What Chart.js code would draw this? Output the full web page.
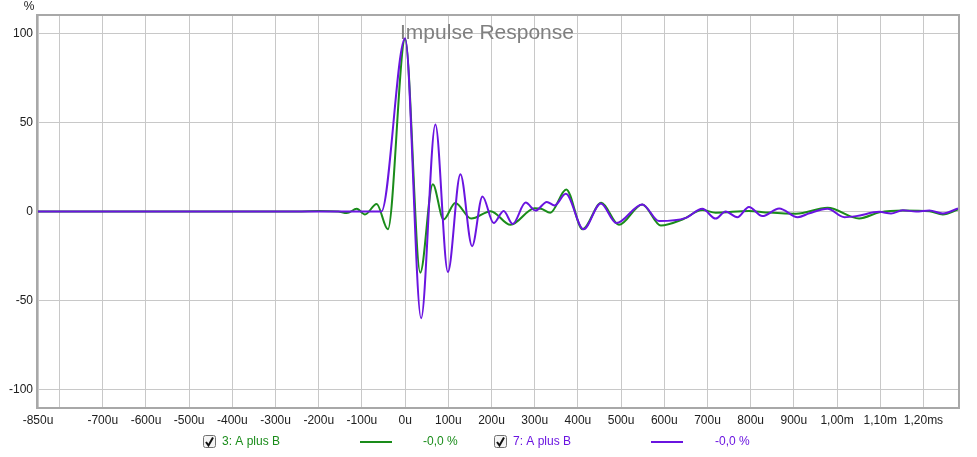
<!DOCTYPE html>
<html lang="en">
<head>
    <meta charset="UTF-8">
    <title>Impulse Response</title>
    <script src="https://cdn.jsdelivr.net/npm/chart.js"></script>
    <style>
        html, body { margin: 0; padding: 0; background: #fff; }
        #wrap { width: 977px; height: 457px; position: relative; }
    </style>
</head>
<body>
    <div id="wrap"><canvas id="irChart"></canvas></div>

    <script>
        // time in microseconds, amplitude in %
        const greenTime = [-850, -400, -250, -200, -155, -135, -112, -93, -66, -40, 0, 35, 64, 89, 116, 153, 198, 244, 300, 315, 336, 373, 411, 454, 495, 549, 592, 642, 688, 719, 796, 835, 905, 978, 1051, 1098, 1152, 1214, 1245, 1280];
        const greenValues = [0, 0, 0, 0.3, 0, -0.9, 1.5, -1.7, 4.2, -10, 97, -34.4, 15.4, -4.5, 4.8, -4, 0.2, -7.5, 1.8, 1.5, -0.7, 12.4, -10, 4.9, -7.5, 4, -7.9, -4.5, 0.8, -0.7, 0.3, -0.5, -1.3, 2.1, -3.9, -0.5, 0.6, 0.1, -1.7, 1.1];

        const purpleTime = [-850, -55, 0, 37, 70, 99, 128, 155, 179, 205, 228, 249, 279, 302, 328, 346, 372, 413, 453, 489, 549, 588, 650, 688, 719, 742, 769, 796, 827, 866, 909, 936, 978, 1017, 1044, 1098, 1125, 1152, 1183, 1214, 1245, 1280];
        const purpleValues = [0, 0, 97.5, -60, 49, -34, 21, -19.5, 8.5, -6.5, 0.3, -7, 5, 0.5, 5.4, 3.4, 10, -10, 4.5, -6.5, 4, -5.4, -3.6, 1.5, -4, 0, -3.2, 2.6, -2.6, 1.7, -3.2, -1, 1.5, -3.2, -2.6, -0.2, -1.1, 0.7, 0, 0.6, -1.1, 1.7];

        const xTicks = [-850, -800, -700, -600, -500, -400, -300, -200, -100, 0, 100, 200, 300, 400, 500, 600, 700, 800, 900, 1000, 1100, 1200];
        const xTickLabels = ['-850u', '', '-700u', '-600u', '-500u', '-400u', '-300u', '-200u', '-100u', '0u', '100u', '200u', '300u', '400u', '500u', '600u', '700u', '800u', '900u', '1,00m', '1,10m', '1,20ms'];
        const yTicks = [-100, -50, 0, 50, 100];

        const GREEN = '#1a8c1a';
        const PURPLE = '#6a14e0';
        const FONT = '"Liberation Sans", Arial, sans-serif';

        const toPoints = (xs, ys) => xs.map((x, i) => ({ x: x, y: ys[i] }));

        // frame, title, unit label and legend
        const decor = {
            id: 'decor',
            beforeDatasetsDraw(chart) {
                const c = chart.ctx;
                c.save();
                c.fillStyle = '#808080';
                c.font = '21px ' + FONT;
                c.textAlign = 'center';
                c.textBaseline = 'middle';
                c.fillText('Impulse Response', 487, 33);
                c.restore();
            },
            afterDraw(chart) {
                const c = chart.ctx;
                const a = chart.chartArea;
                c.save();
                c.strokeStyle = '#a8a8a8';
                c.lineWidth = 2;
                c.strokeRect(a.left - 1, a.top - 1, a.right - a.left + 2, a.bottom - a.top + 2);

                c.fillStyle = '#202020';
                c.font = '12px ' + FONT;
                c.textAlign = 'center';
                c.textBaseline = 'middle';
                c.fillText('%', 29, 7);

                drawEntry(c, 203, '3: A plus B', GREEN, 360, 423);
                drawEntry(c, 494, '7: A plus B', PURPLE, 651, 715);
                c.restore();
            }
        };

        function drawEntry(c, bx, label, color, lx, vx) {
            const y = 442;
            c.fillStyle = '#f4f4f4';
            c.strokeStyle = '#707070';
            c.lineWidth = 1;
            c.beginPath();
            c.roundRect(bx + 0.5, 435.5, 12, 12, 2);
            c.fill();
            c.stroke();
            c.strokeStyle = '#111';
            c.lineWidth = 2;
            c.beginPath();
            c.moveTo(bx + 3, y);
            c.lineTo(bx + 5.5, y + 3.5);
            c.lineTo(bx + 10, y - 4.5);
            c.stroke();

            c.font = '12px ' + FONT;
            c.textAlign = 'left';
            c.textBaseline = 'middle';
            c.fillStyle = color;
            c.fillText(label, bx + 19, y);
            c.fillText('-0,0 %', vx, y);

            c.strokeStyle = color;
            c.lineWidth = 2;
            c.beginPath();
            c.moveTo(lx, y);
            c.lineTo(lx + 32, y);
            c.stroke();
        }

        const ctx = document.getElementById('irChart').getContext('2d');
        new Chart(ctx, {
            type: 'line',
            data: {
                datasets: [
                    {
                        label: '3: A plus B',
                        data: toPoints(greenTime, greenValues),
                        borderColor: GREEN,
                        borderWidth: 2,
                        pointRadius: 0,
                        cubicInterpolationMode: 'monotone',
                        order: 1
                    },
                    {
                        label: '7: A plus B',
                        data: toPoints(purpleTime, purpleValues),
                        borderColor: PURPLE,
                        borderWidth: 2,
                        pointRadius: 0,
                        cubicInterpolationMode: 'monotone',
                        order: 0
                    }
                ]
            },
            options: {
                responsive: true,
                maintainAspectRatio: false,
                animation: false,
                layout: { padding: { left: 0, top: 16, right: 19, bottom: 0 } },
                plugins: {
                    legend: { display: false },
                    tooltip: { enabled: false }
                },
                scales: {
                    x: {
                        type: 'linear',
                        min: -850,
                        max: 1280,
                        afterBuildTicks: s => { s.ticks = xTicks.map(v => ({ value: v })); },
                        afterFit: s => { s.height = 50; },
                        ticks: {
                            autoSkip: false,
                            maxRotation: 0,
                            padding: 6,
                            color: '#202020',
                            font: { family: FONT, size: 12 },
                            callback: v => xTickLabels[xTicks.indexOf(v)]
                        },
                        grid: { color: '#c8c8c8', drawTicks: false },
                        border: { display: false }
                    },
                    y: {
                        min: -110,
                        max: 110,
                        afterBuildTicks: s => { s.ticks = yTicks.map(v => ({ value: v })); },
                        afterFit: s => { s.width = 38; },
                        ticks: {
                            padding: 5,
                            color: '#202020',
                            font: { family: FONT, size: 12 }
                        },
                        grid: { color: '#c8c8c8', drawTicks: false },
                        border: { display: false }
                    }
                }
            },
            plugins: [decor]
        });
    </script>
</body>
</html>
